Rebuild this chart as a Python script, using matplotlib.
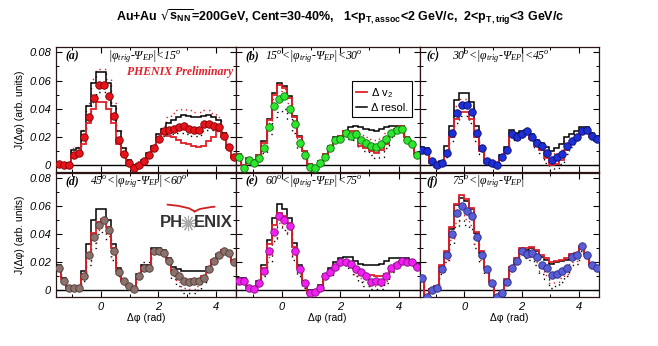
import numpy as np
import matplotlib.pyplot as plt
from matplotlib.lines import Line2D

plt.rcParams['mathtext.default'] = 'regular'
plt.rcParams['font.family'] = ['Liberation Sans', 'DejaVu Sans']

# 36 bins in dphi from -pi/2 to 3pi/2, values in units of 1e-3
edges = np.linspace(-np.pi / 2, 3 * np.pi / 2, 37)
centers = 0.5 * (edges[1:] + edges[:-1])

pts_a = [1, 0, 0, 7, 9, 20, 34, 48, 57, 57, 49, 35, 18, 8, 2, -2, 0, 3, 7, 12, 19, 24, 25, 26, 27, 28, 26, 25, 25, 29, 29, 28, 27, 21, 13, 6]
bsol_a = [2, 0, 0, 11, 12, 24, 42, 58, 66, 66, 58, 42, 24, 12, 4, 0, 1, 4, 9, 14, 22, 26, 30, 32, 34, 36, 35, 34, 34, 35, 36, 34, 32, 23, 14, 6]
rdot_a = [2, 1, 1, 12, 13, 25, 44, 61, 68, 68, 61, 44, 25, 13, 4, 0, 1, 4, 9, 15, 23, 28, 34, 37, 39, 40, 39, 38, 38, 39, 39, 37, 34, 24, 14, 7]
rsol_a = [1, 0, 0, 7, 8, 15, 30, 40, 45, 45, 40, 30, 15, 7, 1, -2, 0, 2, 6, 10, 17, 22, 21, 20, 18, 16, 15, 14, 13, 14, 17, 20, 24, 20, 12, 5]
bdot_a = [1, 0, 0, 7, 8, 18, 32, 45, 52, 52, 45, 32, 16, 7, 1, -2, 0, 3, 7, 11, 18, 21, 22, 22, 23, 23, 22, 21, 21, 24, 25, 25, 24, 20, 12, 5]

pts_b = [6, -2, 4, 2, 5, 12, 27, 42, 47, 49, 40, 29, 16, 7, -1, -2, 2, 6, 12, 18, 19, 23, 21, 22, 18, 16, 14, 13, 15, 19, 23, 25, 26, 18, 15, 7]
bsol_b = [8, 0, 5, 4, 7, 17, 33, 51, 58, 56, 49, 35, 21, 10, 1, -1, 3, 8, 14, 20, 21, 24, 27, 28, 27, 26, 25, 24, 26, 27, 28, 28, 28, 20, 16, 8]
rdot_b = [7, -1, 5, 3, 6, 14, 30, 47, 53, 54, 44, 32, 18, 8, 0, -1, 3, 7, 13, 19, 20, 24, 23, 24, 22, 20, 19, 18, 20, 23, 25, 27, 27, 19, 16, 8]
rsol_b = [8, 0, 5, 4, 7, 16, 32, 50, 57, 55, 48, 34, 20, 10, 1, -1, 3, 8, 13, 19, 21, 24, 24, 24, 14, 12, 10, 9, 11, 15, 21, 26, 28, 20, 16, 8]
bdot_b = [5, -3, 3, 1, 3, 9, 22, 34, 38, 40, 33, 23, 12, 5, -2, -3, 1, 5, 11, 17, 18, 21, 19, 18, 13, 10, 7, 5, 6, 12, 20, 24, 25, 17, 14, 6]

pts_c = [11, 10, 3, 0, 2, 9, 23, 37, 43, 43, 38, 23, 12, 3, 2, 0, 6, 11, 22, 20, 22, 24, 20, 16, 14, 9, 4, 6, 8, 14, 17, 20, 24, 25, 21, 19]
bsol_c = [13, 12, 4, 1, 3, 14, 28, 46, 51, 51, 45, 28, 14, 4, 2, 1, 7, 13, 25, 23, 24, 25, 22, 18, 16, 13, 10, 12, 15, 20, 22, 24, 27, 27, 23, 21]
rdot_c = [12, 11, 3, 0, 2, 11, 25, 42, 47, 47, 42, 25, 13, 3, 2, 0, 6, 12, 23, 21, 23, 25, 21, 17, 15, 11, 7, 9, 11, 17, 19, 22, 25, 26, 22, 20]
rsol_c = [10, 9, 2, -1, 1, 8, 20, 33, 38, 38, 33, 20, 10, 2, 1, -1, 5, 10, 21, 19, 21, 23, 19, 14, 11, 5, 0, 1, 4, 11, 15, 19, 23, 25, 20, 17]
bdot_c = [9, 8, 2, -1, 0, 6, 17, 30, 35, 35, 30, 17, 8, 1, 0, -2, 4, 9, 20, 18, 20, 22, 18, 12, 9, 2, -3, -2, 1, 8, 13, 18, 22, 24, 19, 17]

pts_d = [16, 7, 2, 2, 2, 10, 25, 38, 47, 50, 43, 28, 13, 7, 3, 1, 10, 16, 16, 28, 28, 27, 21, 13, 10, 7, 6, 7, 7, 9, 15, 21, 25, 28, 27, 20]
bsol_d = [18, 9, 2, 2, 2, 14, 33, 50, 58, 58, 50, 33, 16, 8, 3, 1, 12, 18, 18, 30, 30, 29, 23, 17, 15, 14, 14, 14, 14, 14, 17, 22, 26, 29, 28, 21]
rdot_d = [16, 7, 1, 1, 1, 8, 21, 34, 43, 45, 39, 24, 11, 6, 2, 0, 10, 18, 18, 28, 28, 27, 20, 10, 6, 2, 1, 1, 3, 7, 14, 21, 25, 28, 27, 20]
rsol_d = [17, 8, 2, 2, 2, 11, 27, 41, 49, 51, 45, 30, 14, 7, 3, 1, 11, 17, 17, 29, 29, 28, 22, 14, 11, 8, 7, 8, 8, 10, 16, 22, 26, 29, 28, 21]
bdot_d = [15, 6, 1, 1, 1, 7, 18, 30, 40, 42, 36, 22, 10, 5, 2, 0, 9, 20, 20, 27, 27, 26, 19, 8, 3, -2, -2, -2, 0, 5, 13, 20, 24, 27, 26, 19]

pts_e = [7, 7, 2, 1, 5, 14, 28, 42, 53, 50, 46, 28, 15, 5, -2, -1, 2, 10, 13, 17, 20, 20, 19, 15, 13, 10, 6, 7, 6, 10, 16, 18, 21, 20, 20, 17]
bsol_e = [9, 9, 3, 2, 7, 18, 36, 52, 62, 58, 52, 34, 18, 7, 0, 0, 4, 12, 16, 20, 23, 24, 24, 21, 19, 18, 18, 18, 19, 21, 23, 23, 23, 23, 22, 19]
rdot_e = [7, 7, 2, 1, 4, 12, 24, 38, 48, 46, 42, 25, 12, 3, -2, -1, 2, 9, 12, 16, 19, 19, 17, 12, 9, 6, 3, 3, 3, 7, 14, 17, 21, 20, 20, 17]
rsol_e = [8, 8, 2, 1, 6, 16, 33, 47, 55, 53, 48, 31, 16, 5, -2, -1, 3, 11, 14, 18, 21, 21, 20, 16, 13, 11, 11, 10, 10, 12, 17, 19, 21, 21, 20, 17]
bdot_e = [6, 6, 1, 0, 3, 10, 20, 35, 45, 43, 40, 22, 10, 2, -3, -2, 1, 8, 11, 15, 18, 18, 16, 10, 6, 3, 1, 1, 1, 5, 13, 17, 22, 21, 20, 16]

pts_f = [9, -5, 0, 2, 15, 25, 40, 55, 60, 57, 53, 38, 25, 15, 5, -5, -2, 6, 16, 21, 28, 26, 27, 24, 18, 16, 11, 12, 14, 16, 24, 25, 32, 25, 18, 16]
bsol_f = [10, -5, 1, 3, 17, 27, 44, 61, 66, 64, 58, 41, 27, 16, 6, -5, -2, 7, 17, 22, 29, 29, 30, 28, 24, 22, 19, 20, 21, 22, 25, 26, 31, 26, 18, 16]
rdot_f = [9, -5, 0, 2, 13, 22, 36, 48, 54, 51, 47, 33, 22, 13, 4, -5, -2, 5, 15, 20, 26, 24, 24, 20, 14, 11, 5, 6, 9, 12, 20, 21, 30, 24, 17, 15]
rsol_f = [10, -5, 1, 3, 18, 28, 45, 62, 68, 65, 59, 42, 28, 17, 6, -5, -2, 8, 17, 23, 30, 30, 31, 29, 25, 23, 20, 21, 22, 23, 26, 27, 32, 26, 19, 17]
bdot_f = [8, -5, 0, 1, 12, 20, 33, 45, 50, 47, 44, 30, 20, 12, 4, -5, -2, 5, 14, 19, 25, 23, 22, 18, 12, 8, 2, 3, 6, 10, 18, 19, 28, 23, 17, 15]

panel_tags = ['(a)', '(b)', '(c)', '(d)', '(e)', '(f)']
panel_ranges = ['|φ$_{trig}$-Ψ$_{EP}$|<15$^o$',
                '15$^o$<|φ$_{trig}$-Ψ$_{EP}$|<30$^o$',
                '30$^o$<|φ$_{trig}$-Ψ$_{EP}$|<45$^o$',
                '45$^o$<|φ$_{trig}$-Ψ$_{EP}$|<60$^o$',
                '60$^o$<|φ$_{trig}$-Ψ$_{EP}$|<75$^o$',
                '75$^o$<|φ$_{trig}$-Ψ$_{EP}$|']
points = [pts_a, pts_b, pts_c, pts_d, pts_e, pts_f]
blk_solid = [bsol_a, bsol_b, bsol_c, bsol_d, bsol_e, bsol_f]
red_dot = [rdot_a, rdot_b, rdot_c, rdot_d, rdot_e, rdot_f]
red_solid = [rsol_a, rsol_b, rsol_c, rsol_d, rsol_e, rsol_f]
blk_dot = [bdot_a, bdot_b, bdot_c, bdot_d, bdot_e, bdot_f]
face = ['#e8141c', '#2ee62e', '#1f2fd6', '#8c726c', '#f020f0', '#5a5ed6']
edge = ['#7a0000', '#0e700e', '#0a1070', '#4a3a36', '#801080', '#2a2a80']

RED = '#e0202a'
W, H = 658.0, 346.0
fig = plt.figure(figsize=(W / 100, H / 100), dpi=100)

lefts = [56, 236, 419.5]
widths = [180, 183.5, 179.5]
rows = [(47, 172), (173, 297)]
tag_x = [0.05, 0.05, 0.04, 0.05, 0.05, 0.04]
rng_x = [0.29, 0.16, 0.18, 0.19, 0.16, 0.18]

axes = []
for k in range(6):
    r, c = divmod(k, 3)
    top, bot = rows[r]
    ax = fig.add_axes([lefts[c] / W, 1 - bot / H, widths[c] / W, (bot - top) / H])
    axes.append(ax)

    ax.axhline(0, color='black', lw=1.0, zorder=1)
    ax.stairs(np.array(blk_dot[k]) * 1e-3, edges, baseline=None, color='black', lw=1.0, ls=(0, (1, 3)), zorder=2)
    ax.stairs(np.array(red_dot[k]) * 1e-3, edges, baseline=None, color=RED, lw=1.0, ls=(0, (1, 3)), zorder=2)
    ax.stairs(np.array(blk_solid[k]) * 1e-3, edges, baseline=None, color='black', lw=1.1, zorder=3)
    ax.stairs(np.array(red_solid[k]) * 1e-3, edges, baseline=None, color=RED, lw=1.3, zorder=3)
    ax.plot(centers, np.array(points[k]) * 1e-3, 'o', ms=5.4, mfc=face[k], mec=edge[k], mew=0.6, zorder=5)

    ax.set_xlim(-np.pi / 2, 3 * np.pi / 2)
    ax.set_ylim(-0.0047, 0.0838)
    ax.set_xticks([0, 2, 4])
    ax.set_xticks([-1, 1, 3], minor=True)
    ax.set_yticks([0, 0.02, 0.04, 0.06, 0.08])
    ax.set_yticks([0.01, 0.03, 0.05, 0.07], minor=True)
    ax.tick_params(which='both', direction='in', top=True, right=True, labelsize=8)
    ax.tick_params(which='major', length=4, width=0.8)
    ax.tick_params(which='minor', length=2.5, width=0.7)
    for s in ax.spines.values():
        s.set_color('#2a1414')
        s.set_linewidth(0.9)
    if c == 0:
        ax.set_yticklabels(['0', '0.02', '0.04', '0.06', '0.08'], fontstyle='italic')
        ax.set_ylabel('J(Δφ) (arb. units)', fontsize=7.5, labelpad=3)
    else:
        ax.set_yticklabels([])
    if r == 1:
        ax.set_xticklabels(['0', '2', '4'], fontstyle='italic')
        ax.set_xlabel('Δφ (rad)', fontsize=7.5, labelpad=1)
    else:
        ax.set_xticklabels([])

    ty = 0.925 if r == 0 else 0.93
    ax.text(tag_x[k], ty, panel_tags[k], transform=ax.transAxes, fontsize=8.5, family='Liberation Serif',
            style='italic', weight='bold', va='center')
    ax.text(rng_x[k], ty, panel_ranges[k], transform=ax.transAxes, fontsize=8.5, family='Liberation Serif',
            style='italic', va='center')

# PHENIX Preliminary label in (a)
axes[0].text(0.985, 0.8, 'PHENIX Preliminary', transform=axes[0].transAxes, ha='right', va='center',
             fontsize=8.5, family='Liberation Serif', style='italic', weight='bold', color=RED)

# legend in (b)
handles = [Line2D([], [], color=RED, lw=1.3), Line2D([], [], color='black', lw=1.1)]
leg = axes[1].legend(handles, ['Δ v$_2$', 'Δ resol.'], loc='upper left', bbox_to_anchor=(0.6, 0.77),
                     fontsize=8, handlelength=1.0, handletextpad=0.3, borderpad=0.4, labelspacing=0.3,
                     fancybox=False, framealpha=1, edgecolor='black')
leg.get_frame().set_linewidth(0.8)

# PHENIX logo in (d)
axd = axes[3]
axd.text(0.705, 0.6, 'PH', transform=axd.transAxes, ha='right', va='center', fontsize=12,
         weight='bold', color='#333333')
axd.text(0.765, 0.6, 'ENIX', transform=axd.transAxes, ha='left', va='center', fontsize=12,
         weight='bold', color='#333333')
axd.plot([0.735], [0.6], marker=(12, 2, 0), ms=11, color='#aaaaaa', mew=0.8, transform=axd.transAxes)
arc_l = np.array([[0.62, 0.745], [0.68, 0.735], [0.74, 0.715], [0.77, 0.69]])
arc_r = np.array([[0.77, 0.69], [0.80, 0.71], [0.86, 0.725], [0.88, 0.728]])
for arc in (arc_l, arc_r):
    axd.plot(arc[:, 0], arc[:, 1], color='#d02020', lw=1.3, transform=axd.transAxes, clip_on=False)

fig.text(0.517, 0.951, r'Au+Au $\sqrt{s_{NN}}$=200GeV, Cent=30-40%,   1<p$_{T,assoc}$<2 GeV/c,  2<p$_{T,trig}$<3 GeV/c',
         ha='center', va='center', fontsize=9, weight='bold')

fig.savefig('out.png', dpi=100)
